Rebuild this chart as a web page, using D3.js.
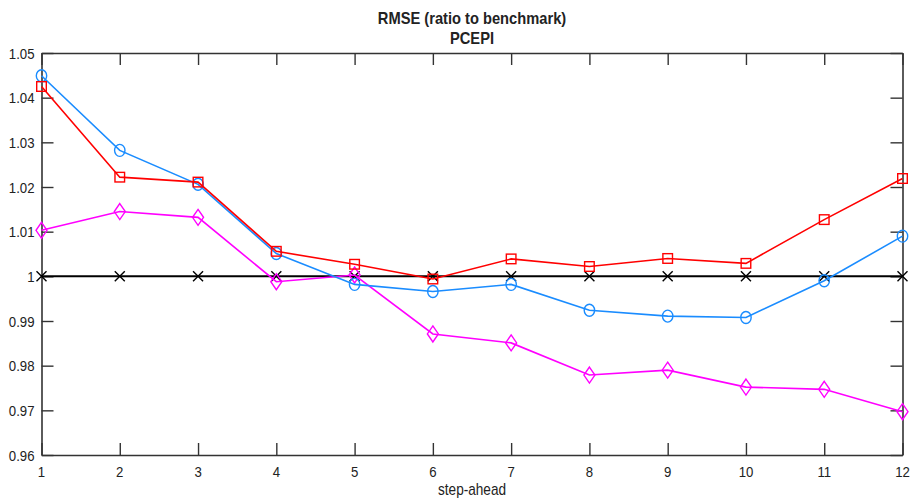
<!DOCTYPE html>
<html>
<head>
<meta charset="utf-8">
<script src="https://cdn.jsdelivr.net/npm/d3@7"></script>
<style>
  html, body { margin: 0; padding: 0; background: #fff; }
  svg { display: block; }
  text { font-family: "Liberation Sans", Arial, sans-serif; fill: #222; }
</style>
</head>
<body>
<svg id="chart" width="910" height="501"></svg>
<script>
// Forecast horizons (steps ahead)
const steps = [1, 2, 3, 4, 5, 6, 7, 8, 9, 10, 11, 12];

// RMSE relative to the benchmark model, one array per model
const benchmark = [1, 1, 1, 1, 1, 1, 1, 1, 1, 1, 1, 1];
const modelCircle = [1.0449, 1.0282, 1.0206, 1.0051, 0.9982, 0.9966, 0.9982, 0.9924, 0.9911, 0.9908, 0.9990, 1.0090];
const modelSquare = [1.0425, 1.0222, 1.0211, 1.0056, 1.0027, 0.9994, 1.0039, 1.0022, 1.0040, 1.0029, 1.0127, 1.0219];
const modelDiamond = [1.0103, 1.0145, 1.0132, 0.9988, 1.0003, 0.9871, 0.9851, 0.9779, 0.9790, 0.9752, 0.9747, 0.9697];

const yTicks = [0.96, 0.97, 0.98, 0.99, 1, 1.01, 1.02, 1.03, 1.04, 1.05];
const yTickLabels = ["0.96", "0.97", "0.98", "0.99", "1", "1.01", "1.02", "1.03", "1.04", "1.05"];

const svg = d3.select("#chart");
const m = { left: 41.5, right: 902.5, top: 53, bottom: 455 };

const x = d3.scaleLinear().domain([1, 12]).range([m.left, m.right]);
const y = d3.scaleLinear().domain([0.96, 1.05]).range([m.bottom, m.top]);

const axisColor = "#333";
const tickLen = 12;
const narrow = 0.88; // horizontal squeeze for the condensed look of the labels

// Text helper: condensed text placed at (px, py)
function label(px, py, str, opts = {}) {
  const sx = opts.sx ?? narrow;
  return svg.append("text")
    .attr("transform", `translate(${px},${py}) scale(${sx},1)`)
    .attr("text-anchor", opts.anchor || "middle")
    .attr("font-size", opts.size || 15)
    .attr("font-weight", opts.weight || "normal")
    .text(str);
}

// Axes with inward ticks on all four sides; labels drawn separately
const gBottom = svg.append("g").attr("transform", `translate(0,${m.bottom})`)
  .call(d3.axisBottom(x).tickValues(steps).tickFormat("").tickSizeInner(-tickLen).tickSizeOuter(0));
const gTop = svg.append("g").attr("transform", `translate(0,${m.top})`)
  .call(d3.axisTop(x).tickValues(steps).tickFormat("").tickSizeInner(-tickLen).tickSizeOuter(0));
const gLeft = svg.append("g").attr("transform", `translate(${m.left},0)`)
  .call(d3.axisLeft(y).tickValues(yTicks).tickFormat("").tickSizeInner(-tickLen).tickSizeOuter(0));
const gRight = svg.append("g").attr("transform", `translate(${m.right},0)`)
  .call(d3.axisRight(y).tickValues(yTicks).tickFormat("").tickSizeInner(-tickLen).tickSizeOuter(0));

[gBottom, gTop, gLeft, gRight].forEach(g => {
  g.select(".domain").attr("stroke", axisColor).attr("stroke-width", 1.6);
  g.selectAll(".tick line").attr("stroke", axisColor).attr("stroke-width", 1.4);
});

steps.forEach(s => label(x(s), m.bottom + 22, String(s)));
yTicks.forEach((v, i) => label(m.left - 7, y(v) + 5.5, yTickLabels[i], { anchor: "end" }));

const line = d3.line().x((d, i) => x(steps[i])).y(d => y(d));

// Series: draw order so the benchmark sits beneath the others
const series = [
  { values: benchmark, color: "#000000", marker: "x" },
  { values: modelDiamond, color: "#ff00ff", marker: "diamond" },
  { values: modelCircle, color: "#1a8cff", marker: "circle" },
  { values: modelSquare, color: "#ff0000", marker: "square" }
];

series.forEach(s => {
  svg.append("path").datum(s.values)
    .attr("fill", "none").attr("stroke", s.color)
    .attr("stroke-width", s.marker === "x" ? 2 : 1.6)
    .attr("d", line);

  const pts = svg.append("g").selectAll("g").data(s.values).join("g")
    .attr("transform", (d, i) => `translate(${x(steps[i])},${y(d)})`);

  if (s.marker === "circle") {
    pts.append("ellipse").attr("rx", 5.2).attr("ry", 6)
      .attr("fill", "none").attr("stroke", s.color).attr("stroke-width", 1.4);
  } else if (s.marker === "square") {
    pts.append("rect").attr("x", -4.8).attr("y", -4.8).attr("width", 9.6).attr("height", 9.6)
      .attr("fill", "none").attr("stroke", s.color).attr("stroke-width", 1.4);
  } else if (s.marker === "diamond") {
    pts.append("path").attr("d", "M0,-8 L5.5,0 L0,8 L-5.5,0 Z")
      .attr("fill", "none").attr("stroke", s.color).attr("stroke-width", 1.4);
  } else {
    pts.append("path").attr("d", "M-5,-5 L5,5 M-5,5 L5,-5")
      .attr("fill", "none").attr("stroke", s.color).attr("stroke-width", 1.4);
  }
});

// Titles
const cx = (m.left + m.right) / 2;
label(cx, 24, "RMSE (ratio to benchmark)", { size: 16.5, weight: "bold", sx: 0.89 });
label(cx, 44, "PCEPI", { size: 16.5, weight: "bold", sx: 0.89 });
label(cx, 495, "step-ahead", { size: 16, sx: 0.85 });
</script>
</body>
</html>
